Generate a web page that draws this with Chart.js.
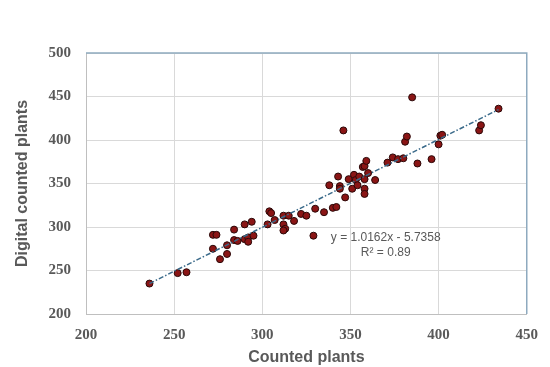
<!DOCTYPE html>
<html>
<head>
    <title>Counted vs Digital counted plants</title>
    <script src="https://cdn.jsdelivr.net/npm/chart.js"></script>
    <style>
        body {
            margin: 0;
            background-color: #ffffff;
        }
        #wrap {
            position: relative;
            width: 550px;
            height: 367px;
        }
    </style>
</head>
<body>
    <div id="wrap">
        <canvas id="myChart"></canvas>
    </div>
    <script>
        // counted plants (x) and digital counted plants (y)
        const countedPlants = [
            236, 252, 257, 272, 274, 272, 276, 280, 280, 284,
            284, 286, 290, 294, 290, 292, 292, 295, 303, 304,
            305, 307, 312, 315, 312, 313, 312, 318, 322, 325,
            329, 330, 335, 340, 342, 338, 343, 344, 344, 347,
            346, 349, 351, 352, 353, 354, 355, 358, 358, 358,
            357, 358, 359, 360, 364, 371, 374, 377, 380, 381,
            382, 385, 388, 396, 400, 401, 402, 423, 424, 434
        ];
        const digitalPlants = [
            235, 247, 248, 291, 291, 275, 263, 279, 269, 297,
            285, 284, 303, 306, 286, 288, 283, 290, 303, 318,
            316, 308, 313, 313, 303, 298, 296, 307, 315, 313,
            290, 321, 317, 322, 323, 348, 358, 347, 344, 334,
            411, 355, 344, 360, 354, 348, 358, 355, 344, 338,
            369, 370, 376, 362, 354, 374, 380, 378, 379, 398,
            404, 449, 373, 378, 395, 405, 406, 411, 417, 436
        ];

        // linear trendline end points
        const trendX = [236, 434];
        const trendY = [235, 435];

        const equationText = "y = 1.0162x - 5.7358";
        const r2Text = "R\u00b2 = 0.89";

        const gray = "#595959";

        const points = countedPlants.map((x, i) => ({ x: x, y: digitalPlants[i] }));
        const trend = trendX.map((x, i) => ({ x: x, y: trendY[i] }));

        // blue frame on top/right + equation label
        const extras = {
            id: "extras",
            beforeDatasetsDraw(chart) {
                const ctx = chart.ctx;
                const a = chart.chartArea;
                ctx.save();
                ctx.strokeStyle = "#8eaabf";
                ctx.lineWidth = 1.5;
                ctx.beginPath();
                ctx.moveTo(a.left, a.top);
                ctx.lineTo(a.right, a.top);
                ctx.lineTo(a.right, a.bottom);
                ctx.stroke();
                ctx.restore();
            },
            afterDraw(chart) {
                const ctx = chart.ctx;
                const xs = chart.scales.x;
                const ys = chart.scales.y;
                ctx.save();
                ctx.fillStyle = gray;
                ctx.font = "12px 'Liberation Sans'";
                ctx.textAlign = "center";
                ctx.textBaseline = "middle";
                ctx.fillText(equationText, xs.getPixelForValue(370), ys.getPixelForValue(288));
                ctx.fillText(r2Text, xs.getPixelForValue(370), ys.getPixelForValue(270));
                ctx.restore();
            }
        };

        const tickFont = { family: "'Liberation Serif'", weight: "bold", size: 15 };
        const titleFont = { family: "'Liberation Sans'", weight: "bold", size: 16, lineHeight: 1.2 };

        var ctx = document.getElementById("myChart").getContext("2d");
        var chart = new Chart(ctx, {
            type: "scatter",
            data: {
                datasets: [{
                    type: "line",
                    data: trend,
                    borderColor: "#3a6a8a",
                    borderWidth: 1.5,
                    borderDash: [5, 2, 1.5, 2],
                    pointRadius: 0,
                    fill: false,
                    order: 0
                }, {
                    data: points,
                    backgroundColor: "#8a1515",
                    borderColor: "#2a0808",
                    borderWidth: 1,
                    pointRadius: 3.5,
                    order: 1
                }]
            },
            options: {
                responsive: true,
                maintainAspectRatio: false,
                animation: false,
                layout: {
                    padding: { top: 53, right: 18, left: 0, bottom: 0 }
                },
                plugins: {
                    legend: { display: false },
                    tooltip: { enabled: false }
                },
                scales: {
                    x: {
                        type: "linear",
                        min: 200,
                        max: 450,
                        ticks: { stepSize: 50, padding: 12, font: tickFont, color: gray },
                        grid: { color: "#d9d9d9", drawTicks: false },
                        border: { color: "#bfbfbf" },
                        title: {
                            display: true,
                            text: "Counted plants",
                            font: titleFont,
                            color: gray,
                            padding: { top: 0, bottom: 0 }
                        },
                        afterFit: function (s) { s.height = 53; }
                    },
                    y: {
                        type: "linear",
                        min: 200,
                        max: 500,
                        ticks: { stepSize: 50, padding: 15, font: tickFont, color: gray },
                        grid: { color: "#d9d9d9", drawTicks: false },
                        border: { color: "#bfbfbf" },
                        title: {
                            display: true,
                            text: "Digital counted plants",
                            font: titleFont,
                            color: gray,
                            padding: { top: 13, bottom: 0 }
                        },
                        afterFit: function (s) { s.width = 86; }
                    }
                }
            },
            plugins: [extras]
        });
    </script>
</body>
</html>
